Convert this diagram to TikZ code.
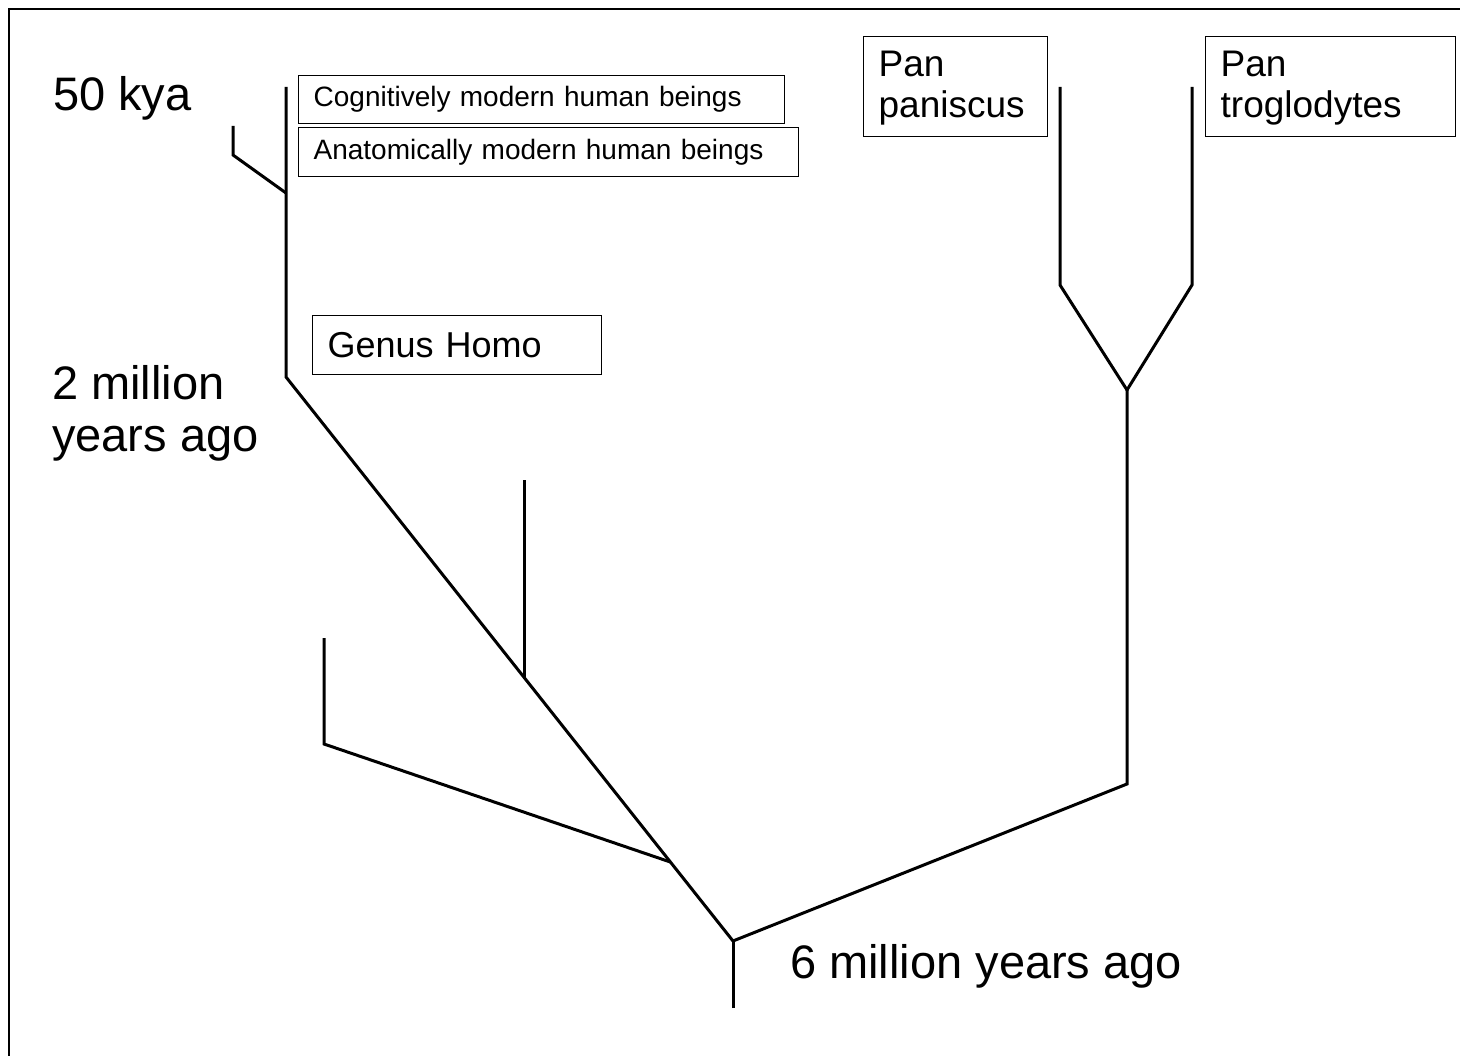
\documentclass[tikz,border=0pt]{standalone}
\usepackage{fontspec}
\setmainfont{Liberation Sans}
\usetikzlibrary{calc}
\begin{document}
\begin{tikzpicture}[x=1pt,y=-1pt,
    branch/.style={line width=3pt},
    tag/.style={draw,line width=1.3pt,inner xsep=15pt,inner ysep=0pt,
      align=left,anchor=north west},
    era/.style={font=\fontsize{47}{52}\selectfont,inner sep=0pt,anchor=base west}]
  \useasboundingbox (0,0) rectangle (1460,1056);
  \draw[line width=1.5pt] (9,1056) -- (9,9) -- (1460,9);
  % branch points
  \coordinate (root) at (733,941);
  \coordinate (base) at (733,1008);
  \coordinate (homo) at (286,377);
  \coordinate (sapiens) at (286,87);
  \coordinate (nean) at (286,193);
  \coordinate (neanbend) at (233,155);
  \coordinate (neantip) at (233,126);
  \coordinate (robust) at ($(homo)!0.534!(root)$);
  \coordinate (robusttip) at ($(robust |- 0,480)$);
  \coordinate (aus) at ($(homo)!0.86!(root)$);
  \coordinate (ausbend) at (324,744);
  \coordinate (austip) at (324,638);
  \coordinate (pan) at (1127,784);
  \coordinate (panfork) at (1127,390);
  \coordinate (bonbend) at (1060,285);
  \coordinate (bontip) at (1060,87);
  \coordinate (chimpbend) at (1192,285);
  \coordinate (chimptip) at (1192,87);
  \begin{scope}[branch]
    \draw (base) -- (root);
    \draw (root) -- (homo) -- (sapiens);
    \draw (nean) -- (neanbend) -- (neantip);
    \draw (robust) -- (robusttip);
    \draw (aus) -- (ausbend) -- (austip);
    \draw (root) -- (pan) -- (panfork);
    \draw (panfork) -- (bonbend) -- (bontip);
    \draw (panfork) -- (chimpbend) -- (chimptip);
  \end{scope}
  % labels
  \node[tag,text width=456pt,minimum height=48pt,font=\fontsize{28}{32}\selectfont]
    (cog) at (298,75) {Cognitively modern human beings};
  \node[tag,text width=470pt,minimum height=49pt,font=\fontsize{28}{32}\selectfont]
    (anat) at (298,127) {Anatomically modern human beings};
  \node[tag,text width=259pt,minimum height=59pt,font=\fontsize{36}{40}\selectfont]
    (genus) at (312,315) {Genus Homo};
  \node[tag,text width=154pt,minimum height=100pt,font=\fontsize{37}{41}\selectfont]
    (bonobo) at (863,36) {\strut Pan\\paniscus};
  \node[tag,text width=220pt,minimum height=100pt,font=\fontsize{37}{41}\selectfont]
    (chimp) at (1205,36) {\strut Pan\\troglodytes};
  \node[era] (kya) at (53,111) {50 kya};
  \node[era,align=left] (mya2) at (52,452) {2 million\\years ago};
  \node[era] (mya6) at (790,978) {6 million years ago};
\end{tikzpicture}
\end{document}
